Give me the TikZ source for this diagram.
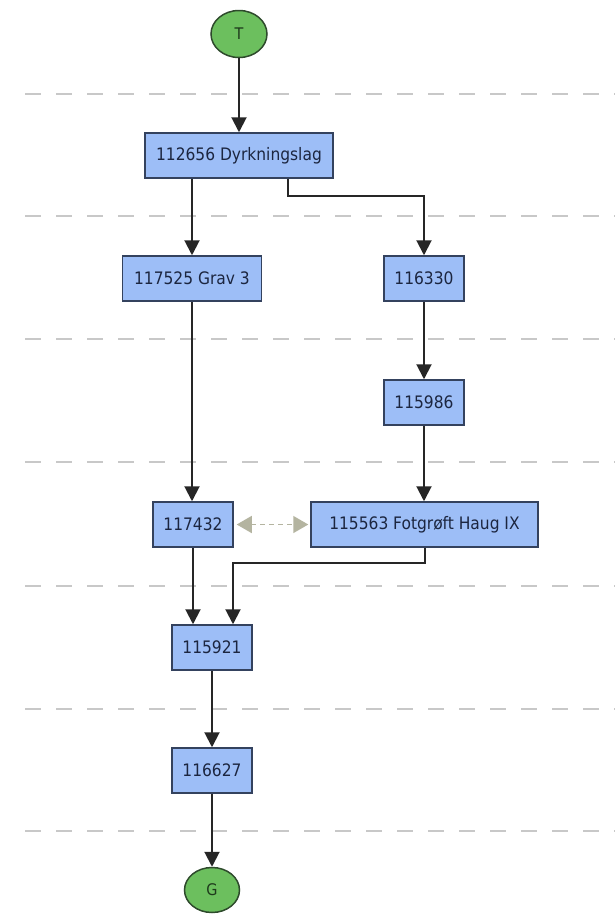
\documentclass[tikz,border=0pt]{standalone}
\usepackage{fontspec}
\setmainfont{DejaVu Sans Condensed}
\usetikzlibrary{arrows.meta,shapes.geometric,calc}
\definecolor{boxfill}{HTML}{9DBEF7}
\definecolor{boxline}{HTML}{34425E}
\definecolor{boxtext}{HTML}{1C2640}
\definecolor{ovfill}{HTML}{6CBF5E}
\definecolor{ovline}{HTML}{2E4A2C}
\definecolor{ovtext}{HTML}{1E3A1C}
\definecolor{sepcol}{HTML}{C8C8C8}
\definecolor{linkcol}{HTML}{B4B4A0}
\tikzset{
  ctx/.style={draw=boxline, fill=boxfill, line width=1.5pt, minimum height=45pt, inner sep=0pt, text=boxtext, font=\fontsize{17.2}{20}\selectfont},
  term/.style={ellipse, draw=ovline, fill=ovfill, line width=1.5pt, minimum width=56pt, minimum height=47pt, inner sep=0pt, text=ovtext, font=\fontsize{16}{18}\selectfont},
  flow/.style={line width=2pt, draw=black!85, -{Triangle[width=15pt,length=15pt]}},
  sep/.style={draw=sepcol, line width=1.5pt, dash pattern=on 16pt off 15pt},
  link/.style={draw=linkcol, line width=1.5pt, dash pattern=on 5pt off 4pt, {Triangle[width=17pt,length=15pt]}-{Triangle[width=17pt,length=15pt]}}
}
\begin{document}
\begin{tikzpicture}[x=1pt,y=-1pt]
\useasboundingbox (0,0) rectangle (615,914);
\fill[white] (0,0) rectangle (615,914);
% separators
\foreach \yy in {94,216,339,462,586,709,831}{
  \draw[sep] (25,\yy) -- (615,\yy);
}
% nodes
\node[term] (T) at (239,34) {T};
\node[ctx, minimum width=188pt] (d1) at (239,155.5) {112656 Dyrkningslag};
\node[ctx, minimum width=139pt] (g3) at (192,278.5) {117525 Grav 3};
\node[ctx, minimum width=80pt] (n330) at (424,278.5) {116330};
\node[ctx, minimum width=80pt] (n986) at (424,402.5) {115986};
\node[ctx, minimum width=80pt] (n432) at (193,524.5) {117432};
\node[ctx, minimum width=227pt] (f) at (424.5,524.5) {115563 Fotgrøft Haug IX};
\node[ctx, minimum width=80pt] (n921) at (212,647.5) {115921};
\node[ctx, minimum width=80pt] (n627) at (212,770.5) {116627};
\node[term, minimum width=55pt, minimum height=45pt] (G) at (212,890) {G};
% edges
\draw[flow] (T.south) -- (T.south |- d1.north);
\draw[flow] (d1.south -| g3.north) -- (g3.north);
\draw[flow] ([xshift=49pt]d1.south) -- ++(0,17) -| (n330.north);
\draw[flow] (g3.south) -- (g3.south |- n432.north);
\draw[flow] (n330.south) -- (n986.north);
\draw[flow] (n986.south) -- (n986.south |- f.north);
\draw[flow] (n432.south) -- (n432.south |- n921.north);
\draw[flow] (f.south) -- ++(0,15) -| ([xshift=21pt]n921.north);
\draw[flow] (n921.south) -- (n627.north);
\draw[flow] (n627.south) -- (G.north);
\draw[link] ([xshift=3pt]n432.east) -- ([xshift=-2pt]f.west);
\end{tikzpicture}
\end{document}
